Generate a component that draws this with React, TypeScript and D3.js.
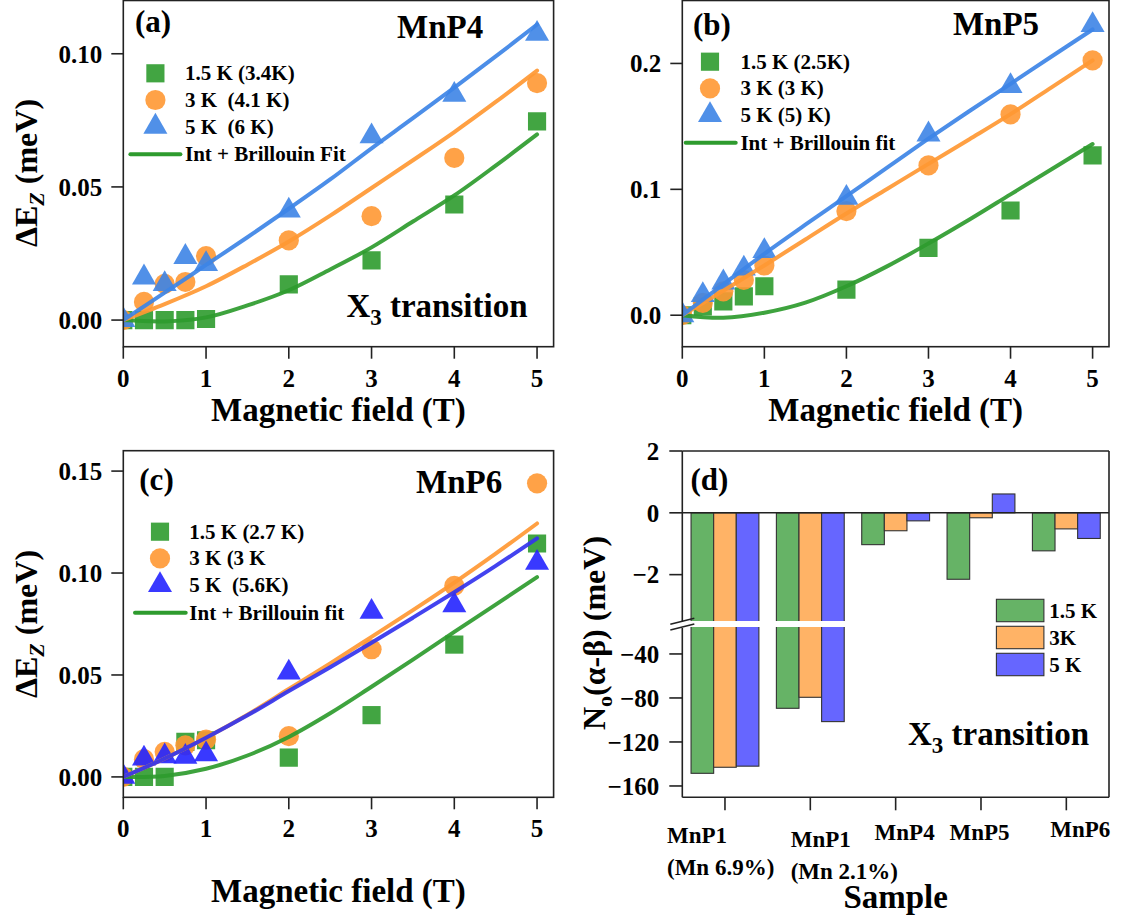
import React from 'react';
import * as d3 from 'd3';

// ---------- DATA ----------
const FIELD = [0, 0.25, 0.5, 0.75, 1, 2, 3, 4, 5];
const FIT_FIELD = [0, 0.5, 1, 1.5, 2, 2.5, 3, 3.5, 4, 4.5, 5];
const X_TICKS = [0, 1, 2, 3, 4, 5];

// (a) MnP4
const a_15K = [0, 0, 0, 0, 0.0004, 0.0134, 0.0224, 0.0434, 0.0746];
const a_3K = [0, 0.0068, 0.0136, 0.0143, 0.024, 0.0299, 0.039, 0.0609, 0.089];
const a_5K = [0, 0.016, 0.0135, 0.0237, 0.021, 0.0411, 0.069, 0.0846, 0.1075];
const a_fit15 = [0, -0.0005, 0.001, 0.0055, 0.0112, 0.019, 0.0273, 0.037, 0.0468, 0.058, 0.0697];
const a_fit3 = [0, 0.006, 0.0127, 0.0208, 0.0295, 0.0392, 0.0496, 0.06, 0.0706, 0.0819, 0.0937];
const a_fit5 = [0, 0.0103, 0.0207, 0.0311, 0.0418, 0.0528, 0.0645, 0.0758, 0.0873, 0.099, 0.111];
const a_yTicks = [0, 0.05, 0.1];
const a_legend = ['1.5 K (3.4K)', '3 K  (4.1 K)', '5 K  (6 K)', 'Int + Brillouin Fit'];

// (b) MnP5
const b_15K = [0, 0.007, 0.011, 0.015, 0.023, 0.0204, 0.0535, 0.0832, 0.127];
const b_3K = [0, 0.0098, 0.019, 0.028, 0.0395, 0.0827, 0.119, 0.1595, 0.2024];
const b_5K = [0, 0.016, 0.026, 0.037, 0.051, 0.0933, 0.1436, 0.182, 0.2305];
const b_fit15 = [0, -0.002, 0.002, 0.01, 0.023, 0.039, 0.057, 0.076, 0.096, 0.116, 0.136];
const b_fit3 = [0, 0.0195, 0.0395, 0.0602, 0.0808, 0.1005, 0.1202, 0.1398, 0.1597, 0.181, 0.2024];
const b_fit5 = [0, 0.0245, 0.0488, 0.0719, 0.0946, 0.1175, 0.1402, 0.1622, 0.1838, 0.2055, 0.227];
const b_yTicks = [0, 0.1, 0.2];
const b_legend = ['1.5 K (2.5K)', '3 K (3 K)', '5 K (5) K)', 'Int + Brillouin fit'];

// (c) MnP6
const c_15K = [0, 0, 0, 0.0172, 0.018, 0.0095, 0.0303, 0.0649, 0.1145];
const c_3K = [0, 0.0087, 0.0123, 0.0155, 0.0183, 0.02, 0.0626, 0.0937, 0.144];
const c_5K = [0, 0.009, 0.0101, 0.0098, 0.0111, 0.0512, 0.081, 0.0842, 0.105];
const c_fit15 = [0, 0.0005, 0.004, 0.0105, 0.0196, 0.0312, 0.0442, 0.0575, 0.0711, 0.0845, 0.098];
const c_fit3 = [0, 0.009, 0.0192, 0.0305, 0.0431, 0.0557, 0.0687, 0.0818, 0.0953, 0.1095, 0.1243];
const c_fit5 = [0, 0.009, 0.0192, 0.0302, 0.0421, 0.0538, 0.0658, 0.0781, 0.0906, 0.1035, 0.117];
const c_yTicks = [0, 0.05, 0.1, 0.15];
const c_legend = ['1.5 K (2.7 K)', '3 K (3 K', '5 K  (5.6K)', 'Int + Brillouin fit'];

// (d) exchange constants
const SAMPLES = ['MnP1', 'MnP1', 'MnP4', 'MnP5', 'MnP6'];
const SAMPLE_NOTES = ['(Mn 6.9%)', '(Mn 2.1%)', '', '', ''];
const BAR_15K = [-148.5, -89.4, -1.03, -2.15, -1.23];
const BAR_3K = [-143, -79.4, -0.58, -0.16, -0.52];
const BAR_5K = [-142, -101.5, -0.26, 0.61, -0.83];
const BAR_LEGEND = ['1.5 K', '3K', '5 K'];
const D_UPPER_TICKS = [2, 0, -2];
const D_LOWER_TICKS = [-40, -80, -120, -160];

// ---------- STYLE / LAYOUT ----------
const FONT = "'Liberation Serif', 'DejaVu Serif', 'Times New Roman', serif";
const AX = '#222';
const COL_G = '#2e9b2e';
const COL_O = '#ff9833';
const COL_B = '#3d84e6';
const COL_B2 = '#2424ff';
const LINE_B2 = '#3333ee';

const fmt2 = d3.format('.2f');
const fmt1 = d3.format('.1f');
const minusFmt = (v: number) => (v < 0 ? '\u2212' + Math.abs(v) : String(v));

type Frame = { x0: number; x1: number; y0: number; y1: number };

interface PanelProps {
  id: string;
  frame: Frame;
  yDomain: [number, number];
  yTicks: number[];
  yFmt: (v: number) => string;
  pts: number[][];
  fits: number[][];
  colors: string[];
  lineColors: string[];
  legend: string[];
  legendPos: { mx: number; tx: number; y: number; lx0: number; lx1: number };
  tag: string;
  tagPos: [number, number];
  title: string;
  titlePos: [number, number];
  yLabel: boolean;
  yLabelY: number;
  xLabelY: number;
  x3?: [number, number];
}

const symSquare = d3.symbol().type(d3.symbolSquare).size(330)();
const symCircle = d3.symbol().type(d3.symbolCircle).size(320)();
const symTri = d3.symbol().type(d3.symbolTriangle).size(250)();
const SYMS = [symSquare, symCircle, symTri];

function Panel(p: PanelProps) {
  const { frame: f } = p;
  const x = d3.scaleLinear().domain([0, 5.2]).range([f.x0, f.x1]);
  const y = d3.scaleLinear().domain(p.yDomain).range([f.y1, f.y0]);
  const line = d3
    .line<number>()
    .x((_, i) => x(FIT_FIELD[i]))
    .y((d) => y(d))
    .curve(d3.curveCatmullRom);
  const clipId = 'clip-' + p.id;
  const L = p.legendPos;
  return (
    <g>
      <defs>
        <clipPath id={clipId}>
          <rect x={f.x0} y={f.y0} width={f.x1 - f.x0} height={f.y1 - f.y0} />
        </clipPath>
      </defs>
      <g clipPath={`url(#${clipId})`}>
        {p.pts.map((s, si) =>
          s.map((v, i) => (
            <path
              key={si + '-' + i}
              d={SYMS[si] as string}
              transform={`translate(${x(FIELD[i])},${y(v)})`}
              fill={p.colors[si]}
              fillOpacity={0.9}
            />
          ))
        )}
        {p.fits.map((s, si) => (
          <path
            key={'f' + si}
            d={line(s) as string}
            fill="none"
            stroke={p.lineColors[si]}
            strokeWidth={4}
            strokeOpacity={0.92}
            strokeLinecap="round"
          />
        ))}
      </g>
      <rect x={f.x0} y={f.y0} width={f.x1 - f.x0} height={f.y1 - f.y0} fill="none" stroke={AX} strokeWidth={1.6} />
      {p.yTicks.map((t) => (
        <g key={'yt' + t}>
          <line x1={f.x0 - 12} x2={f.x0} y1={y(t)} y2={y(t)} stroke={AX} strokeWidth={1.6} />
          <text x={f.x0 - 21} y={y(t)} dy="0.35em" textAnchor="end" fontSize={25} fontWeight="bold">
            {p.yFmt(t)}
          </text>
        </g>
      ))}
      {X_TICKS.map((t) => (
        <g key={'xt' + t}>
          <line x1={x(t)} x2={x(t)} y1={f.y1} y2={f.y1 + 12} stroke={AX} strokeWidth={1.6} />
          <text x={x(t)} y={f.y1 + 40} textAnchor="middle" fontSize={25} fontWeight="bold">
            {t}
          </text>
        </g>
      ))}
      {/* legend */}
      {[0, 1, 2].map((i) => (
        <g key={'lg' + i}>
          <path d={SYMS[i] as string} transform={`translate(${L.mx},${L.y + i * 26.7})`} fill={p.colors[i]} fillOpacity={0.9} />
          <text x={L.tx} y={L.y + i * 26.7} dy="0.33em" fontSize={21} fontWeight="bold" style={{ whiteSpace: 'pre' }}>
            {p.legend[i]}
          </text>
        </g>
      ))}
      <line x1={L.lx0} x2={L.lx1} y1={L.y + 81} y2={L.y + 81} stroke={COL_G} strokeWidth={4} strokeLinecap="round" />
      <text x={L.tx} y={L.y + 81} dy="0.33em" fontSize={21} fontWeight="bold">
        {p.legend[3]}
      </text>
      <text x={p.tagPos[0]} y={p.tagPos[1]} fontSize={31} fontWeight="bold">
        {p.tag}
      </text>
      <text x={p.titlePos[0]} y={p.titlePos[1]} fontSize={33} fontWeight="bold">
        {p.title}
      </text>
      {p.x3 && (
        <text x={p.x3[0]} y={p.x3[1]} fontSize={33} fontWeight="bold">
          X<tspan fontSize={23} dy={8}>3</tspan>
          <tspan dy={-8}> transition</tspan>
        </text>
      )}
      {p.yLabel && (
        <text transform={`translate(37,${p.yLabelY}) rotate(-90)`} textAnchor="middle" fontSize={32} fontWeight="bold">
          ΔE<tspan fontSize={22} dy={7} fontStyle="italic">Z</tspan>
          <tspan dy={-7}> (meV)</tspan>
        </text>
      )}
      <text x={(f.x0 + f.x1) / 2} y={p.xLabelY} textAnchor="middle" fontSize={33} fontWeight="bold">
        Magnetic field (T)
      </text>
    </g>
  );
}

function BarPanel() {
  const f: Frame = { x0: 682.3, x1: 1109, y0: 451, y1: 797.3 };
  const breakTop = 621;
  const breakBot = 627;
  const x = d3.scaleLinear().domain([-0.5, 4.5]).range([f.x0, f.x1]);
  const yU = d3.scaleLinear().domain([-3.5, 2]).range([breakTop, f.y0]);
  const yL = d3.scaleLinear().domain([-170.3, -15.5]).range([f.y1, breakBot]);
  const series = [BAR_15K, BAR_3K, BAR_5K];
  const fills = ['#66b366', '#ffb366', '#6666ff'];
  const bw = 0.265;
  const labelLayout = [
    { dx: -58, dy: 46, anchor: 'start' },
    { dx: -19.6, dy: 50, anchor: 'start' },
    { dx: 9, dy: 42.7, anchor: 'middle' },
    { dx: -1.4, dy: 42.7, anchor: 'middle' },
    { dx: 14, dy: 39.4, anchor: 'middle' },
  ];
  const bars = (ys: d3.ScaleLinear<number, number>, clip: string) => (
    <g clipPath={`url(#${clip})`}>
      {series.map((s, si) =>
        s.map((v, i) => {
          const xl = x(i - 1.5 * bw + si * bw);
          const a = ys(0);
          const b = ys(v);
          return (
            <rect
              key={si + '-' + i}
              x={xl}
              width={x(bw) - x(0)}
              y={Math.min(a, b)}
              height={Math.abs(b - a)}
              fill={fills[si]}
              stroke="#333"
              strokeWidth={1.1}
            />
          );
        })
      )}
    </g>
  );
  return (
    <g>
      <defs>
        <clipPath id="clipU">
          <rect x={f.x0} y={f.y0} width={f.x1 - f.x0} height={breakTop - f.y0} />
        </clipPath>
        <clipPath id="clipL">
          <rect x={f.x0} y={breakBot} width={f.x1 - f.x0} height={f.y1 - breakBot} />
        </clipPath>
      </defs>
      {bars(yU, 'clipU')}
      {bars(yL, 'clipL')}
      <line x1={f.x0} x2={f.x1} y1={yU(0)} y2={yU(0)} stroke={AX} strokeWidth={1.6} />
      {/* frame */}
      <line x1={f.x0} x2={f.x1} y1={f.y0} y2={f.y0} stroke={AX} strokeWidth={1.6} />
      <line x1={f.x0} x2={f.x1} y1={f.y1} y2={f.y1} stroke={AX} strokeWidth={1.6} />
      <line x1={f.x1} x2={f.x1} y1={f.y0} y2={f.y1} stroke={AX} strokeWidth={1.6} />
      <line x1={f.x0} x2={f.x0} y1={f.y0} y2={breakTop + 1} stroke={AX} strokeWidth={1.6} />
      <line x1={f.x0} x2={f.x0} y1={breakBot + 1} y2={f.y1} stroke={AX} strokeWidth={1.6} />
      <line x1={f.x0 - 12} x2={f.x0 + 12} y1={624.3} y2={618.3} stroke={AX} strokeWidth={1.6} />
      <line x1={f.x0 - 12} x2={f.x0 + 12} y1={630} y2={624} stroke={AX} strokeWidth={1.6} />
      {D_UPPER_TICKS.map((t) => (
        <g key={'u' + t}>
          <line x1={f.x0 - 13} x2={f.x0} y1={yU(t)} y2={yU(t)} stroke={AX} strokeWidth={1.6} />
          <text x={f.x0 - 23} y={yU(t)} dy="0.35em" textAnchor="end" fontSize={25} fontWeight="bold">
            {minusFmt(t)}
          </text>
        </g>
      ))}
      {D_LOWER_TICKS.map((t) => (
        <g key={'l' + t}>
          <line x1={f.x0 - 13} x2={f.x0} y1={yL(t)} y2={yL(t)} stroke={AX} strokeWidth={1.6} />
          <text x={f.x0 - 23} y={yL(t)} dy="0.35em" textAnchor="end" fontSize={25} fontWeight="bold">
            {minusFmt(t)}
          </text>
        </g>
      ))}
      {SAMPLES.map((s, i) => {
        const L = labelLayout[i];
        return (
          <g key={'s' + i}>
            <line x1={x(i)} x2={x(i)} y1={f.y1} y2={f.y1 + 13} stroke={AX} strokeWidth={1.6} />
            <text x={x(i) + L.dx} y={f.y1 + L.dy} textAnchor={L.anchor as any} fontSize={23} fontWeight="bold">
              {s}
            </text>
            {SAMPLE_NOTES[i] && (
              <text x={x(i) + L.dx} y={f.y1 + L.dy + 31.7} textAnchor={L.anchor as any} fontSize={23} fontWeight="bold">
                {SAMPLE_NOTES[i]}
              </text>
            )}
          </g>
        );
      })}
      {BAR_LEGEND.map((lab, i) => (
        <g key={'bl' + i}>
          <rect x={996.4} y={599.3 + i * 27} width={47.5} height={22.4} fill={fills[i]} stroke="#333" strokeWidth={1.1} />
          <text x={1049.3} y={610.5 + i * 27} dy="0.35em" fontSize={21} fontWeight="bold">
            {lab}
          </text>
        </g>
      ))}
      <text x={690.4} y={490} fontSize={31} fontWeight="bold">
        (d)
      </text>
      <text x={908} y={745} fontSize={33} fontWeight="bold">
        X<tspan fontSize={23} dy={8}>3</tspan>
        <tspan dy={-8}> transition</tspan>
      </text>
      <text transform={`translate(605,633) rotate(-90)`} textAnchor="middle" fontSize={32} fontWeight="bold">
        N<tspan fontSize={22} dy={7}>o</tspan>
        <tspan dy={-7}>(α-β) (meV)</tspan>
      </text>
      <text x={(f.x0 + f.x1) / 2} y={908.3} textAnchor="middle" fontSize={33} fontWeight="bold">
        Sample
      </text>
    </g>
  );
}

export default function App() {
  return (
    <svg
      width={1123}
      height={920}
      style={{ position: 'absolute', left: 0, top: 0, background: '#fff' }}
      fontFamily={FONT}
    >
      <rect x={0} y={0} width={1123} height={920} fill="#fff" />
      <Panel
        id="a"
        frame={{ x0: 123.3, x1: 553.6, y0: 0.5, y1: 346.7 }}
        yDomain={[-0.01, 0.12]}
        yTicks={a_yTicks}
        yFmt={fmt2}
        pts={[a_15K, a_3K, a_5K]}
        fits={[a_fit15, a_fit3, a_fit5]}
        colors={[COL_G, COL_O, COL_B]}
        lineColors={[COL_G, COL_O, COL_B]}
        legend={a_legend}
        legendPos={{ mx: 155.4, tx: 185, y: 73.3, lx0: 130.4, lx1: 180.4 }}
        tag="(a)"
        tagPos={[135, 31.7]}
        title="MnP4"
        titlePos={[397, 38.3]}
        yLabel={true}
        yLabelY={173}
        xLabelY={421}
        x3={[346.4, 316.7]}
      />
      <Panel
        id="b"
        frame={{ x0: 682.3, x1: 1109, y0: 0.5, y1: 346.7 }}
        yDomain={[-0.025, 0.25]}
        yTicks={b_yTicks}
        yFmt={fmt1}
        pts={[b_15K, b_3K, b_5K]}
        fits={[b_fit15, b_fit3, b_fit5]}
        colors={[COL_G, COL_O, COL_B]}
        lineColors={[COL_G, COL_O, COL_B]}
        legend={b_legend}
        legendPos={{ mx: 710, tx: 740.4, y: 61.7, lx0: 685.7, lx1: 735.7 }}
        tag="(b)"
        tagPos={[692.9, 35]}
        title="MnP5"
        titlePos={[952.9, 35]}
        yLabel={false}
        yLabelY={173}
        xLabelY={421}
      />
      <Panel
        id="c"
        frame={{ x0: 123.3, x1: 553.6, y0: 450.7, y1: 797.3 }}
        yDomain={[-0.01, 0.16]}
        yTicks={c_yTicks}
        yFmt={fmt2}
        pts={[c_15K, c_3K, c_5K]}
        fits={[c_fit15, c_fit3, c_fit5]}
        colors={[COL_G, COL_O, COL_B2]}
        lineColors={[COL_G, COL_O, LINE_B2]}
        legend={c_legend}
        legendPos={{ mx: 160, tx: 189.3, y: 531.7, lx0: 135, lx1: 185.7 }}
        tag="(c)"
        tagPos={[139.3, 490]}
        title="MnP6"
        titlePos={[416, 492.7]}
        yLabel={true}
        yLabelY={624}
        xLabelY={902}
      />
      <BarPanel />
    </svg>
  );
}
